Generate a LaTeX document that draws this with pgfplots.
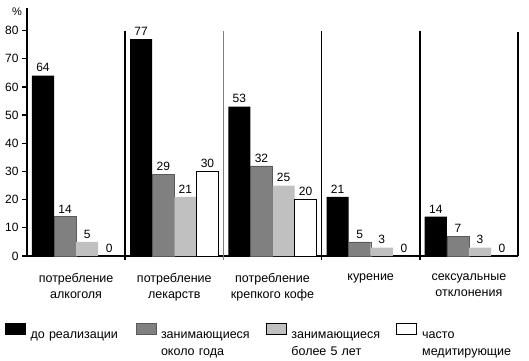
\documentclass[border=0pt]{standalone}
\usepackage{pgfplots}
\pgfplotsset{compat=1.18}
\usepackage{fontspec}
\setmainfont{Liberation Sans}
\definecolor{midgray}{RGB}{128,128,128}
\definecolor{lightgray2}{RGB}{192,192,192}
\pgfplotsset{mylegend/.style={legend image code/.code={\draw[##1] (0pt,-1pt) rectangle (20pt,-12pt);}}}
\begin{document}
\begin{tikzpicture}
\path[use as bounding box] (0,0) rectangle (529pt,360pt);
\begin{axis}[
  at={(27pt,104pt)}, anchor=south west,
  scale only axis, width=491pt, height=248pt,
  xmin=-0.5, xmax=4.5, ymin=0, ymax=88,
  axis x line=bottom, axis y line=left,
  axis line style={line width=1.5pt,-},
  ytick={0,10,...,80},
  y tick style={line width=1.2pt,black},
  tick align=outside, major tick length=5pt,
  xtick={0,1,2,3,4},
  xticklabels={потребление\\алкоголя, потребление\\лекарств, потребление\\крепкого кофе, курение, сексуальные\\отклонения},
  x tick style={draw=none},
  xticklabel style={align=center, font=\fontsize{12.5}{16}\selectfont, anchor=north, yshift=-9pt},
  yticklabel style={font=\fontsize{12}{14}\selectfont},
  /pgf/number format/assume math mode=true,
  ybar=0pt, bar width=0.225,
  nodes near coords,
  nodes near coords style={font=\fontsize{12}{14}\selectfont},
  clip=false,
  legend columns=4,
  legend style={draw=none, fill=none, inner sep=0pt,
    at={(-0.0448,-0.266)}, anchor=north west,
    /tikz/every even column/.append style={column sep=5pt},
    /tikz/every odd column/.append style={column sep=5pt},
    nodes={anchor=north west, text width=100pt, align=left, inner sep=0pt, inner ysep=9pt, font=\fontsize{12.5}{17}\selectfont}},
]
\addplot[fill=black, draw=none, mylegend] coordinates {(0,64) (1,77) (2,53) (3,21) (4,14)};
\addplot[fill=midgray, draw=midgray!70!black, mylegend] coordinates {(0,14) (1,29) (2,32) (3,5) (4,7)};
\addplot[fill=lightgray2, draw=none, mylegend] coordinates {(0,5) (1,21) (2,25) (3,3) (4,3)};
\addplot[fill=white, draw=black, line width=0.8pt, mylegend] coordinates {(0,0) (1,30) (2,20) (3,0) (4,0)};
\legend{до реализации, занимающиеся\\около года, занимающиеся\\более 5 лет, часто\\медитирующие}
\draw[line width=1.5pt] (axis cs:0.5,-1.5) -- (axis cs:0.5,80);
\draw[line width=0.6pt, gray] (axis cs:1.5,-1.5) -- (axis cs:1.5,80);
\draw[line width=1.5pt] (axis cs:2.5,-1.5) -- (axis cs:2.5,80);
\draw[line width=1.5pt] (axis cs:3.5,-1.5) -- (axis cs:3.5,80);
\draw[line width=1.5pt] (axis cs:4.5,0) -- (axis cs:4.5,79.5);
\node[anchor=north east, font=\fontsize{11}{13}\selectfont, inner sep=0pt] at (rel axis cs:0,1) [xshift=-5pt] {\%};
\end{axis}
\end{tikzpicture}
\end{document}
